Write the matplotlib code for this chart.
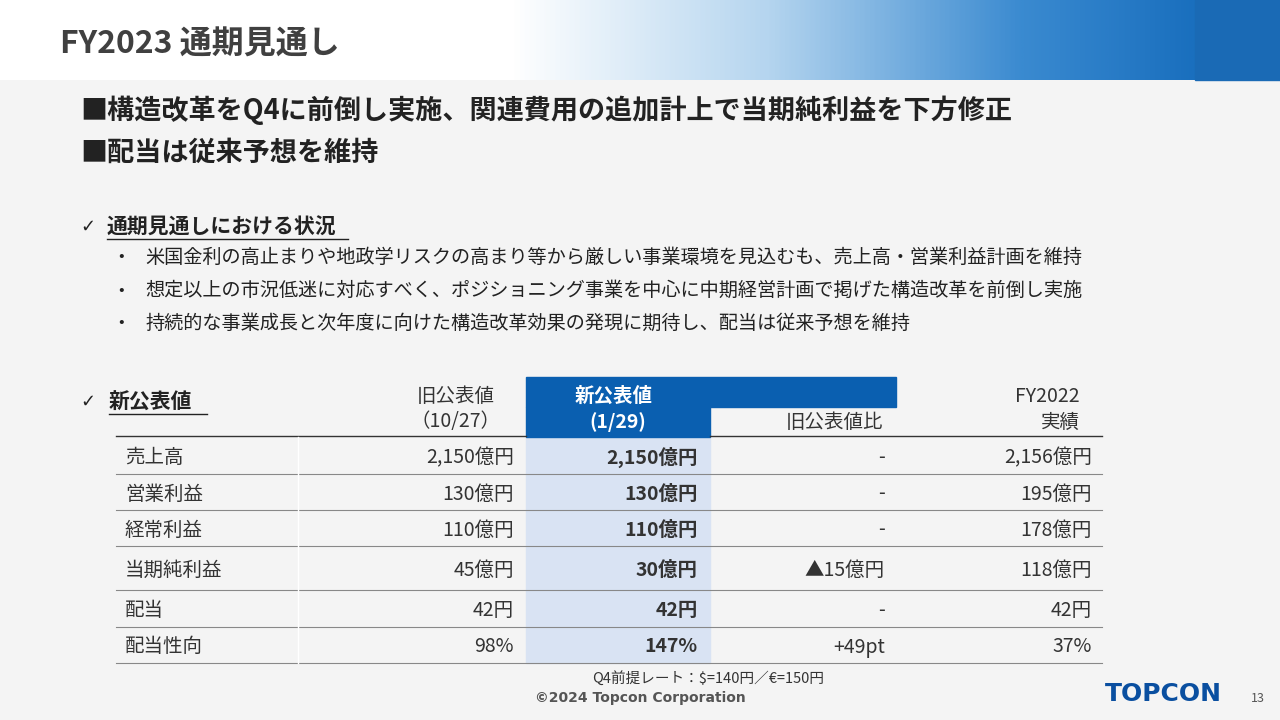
import numpy as np
import matplotlib.pyplot as plt
from matplotlib.patches import Rectangle
from matplotlib.colors import LinearSegmentedColormap

plt.rcParams['font.family'] = 'Noto Sans CJK JP'

rows = ['売上高', '営業利益', '経常利益', '当期純利益', '配当', '配当性向']
old_vals = ['2,150億円', '130億円', '110億円', '45億円', '42円', '98%']
new_vals = ['2,150億円', '130億円', '110億円', '30億円', '42円', '147%']
diff_vals = ['-', '-', '-', '▲15億円', '-', '+49pt']
fy22_vals = ['2,156億円', '195億円', '178億円', '118億円', '42円', '37%']
row_edges = [437, 474, 510, 546, 590, 627, 663]

bullets = ['米国金利の高止まりや地政学リスクの高まり等から厳しい事業環境を見込むも、売上高・営業利益計画を維持',
           '想定以上の市況低迷に対応すべく、ポジショニング事業を中心に中期経営計画で掲げた構造改革を前倒し実施',
           '持続的な事業成長と次年度に向けた構造改革効果の発現に期待し、配当は従来予想を維持']

fig = plt.figure(figsize=(12.8, 7.2), dpi=100)
ax = fig.add_axes([0, 0, 1, 1])
ax.set_xlim(0, 1280)
ax.set_ylim(720, 0)
ax.axis('off')
fig.patch.set_facecolor('#f4f4f4')

# header gradient
cmap = LinearSegmentedColormap.from_list('hdr', ['#ffffff', '#ffffff', '#ffffff', '#b5d5ef', '#3a8ad0', '#0a62b5'])
grad = np.linspace(0, 1, 512).reshape(1, -1)
ax.imshow(grad, cmap=cmap, extent=(0, 1280, 80, 0), aspect='auto', zorder=0)
ax.add_patch(Rectangle((1195, 0), 85, 80, color='#1a6ab5', zorder=1))
ax.text(60, 45, 'FY2023 通期見通し', fontsize=23, fontweight='bold', color='#404040', va='center')

ax.text(80, 110, '■構造改革をQ4に前倒し実施、関連費用の追加計上で当期純利益を下方修正',
        fontsize=19.5, fontweight='bold', color='#222222', va='center')
ax.text(80, 153, '■配当は従来予想を維持', fontsize=19.5, fontweight='bold', color='#222222', va='center')

ax.text(80, 227, '✓', fontsize=13, color='#222222', va='center', family='DejaVu Sans')
ax.text(107, 227, '通期見通しにおける状況', fontsize=15, fontweight='bold', color='#222222', va='center')
ax.plot([107, 348], [239, 239], color='#222222', lw=1)
for i, b in enumerate(bullets):
    y = 257 + i * 33
    ax.text(118, y, '•', fontsize=12, color='#222222', va='center')
    ax.text(145, y, b, fontsize=13.8, color='#222222', va='center')

# table
ax.text(80, 402, '✓', fontsize=13, color='#222222', va='center', family='DejaVu Sans')
ax.text(109, 402, '新公表値', fontsize=15, fontweight='bold', color='#222222', va='center')
ax.plot([109, 207], [414, 414], color='#222222', lw=1)

ax.add_patch(Rectangle((526, 377), 370, 30, color='#0a5fb0', zorder=2))
ax.add_patch(Rectangle((526, 407), 184, 30, color='#0a5fb0', zorder=2))
ax.add_patch(Rectangle((526, 437), 184, 226, color='#d9e3f3', zorder=1))
ax.plot([710, 1102], [436, 436], color='#333333', lw=1)
ax.plot([116, 526], [436, 436], color='#333333', lw=1)
fs = 14
ax.text(456, 396, '旧公表値', fontsize=fs, color='#333333', ha='center', va='center')
ax.text(456, 422, '（10/27）', fontsize=fs, color='#333333', ha='center', va='center')
ax.text(575, 396, '新公表値', fontsize=fs, fontweight='bold', color='white', va='center', zorder=3)
ax.text(618, 422, '(1/29)', fontsize=fs, fontweight='bold', color='white', ha='center', va='center', zorder=3)
ax.text(835, 422, '旧公表値比', fontsize=fs, color='#333333', ha='center', va='center')
ax.text(1080, 396, 'FY2022', fontsize=fs, color='#333333', ha='right', va='center')
ax.text(1080, 422, '実績', fontsize=fs, color='#333333', ha='right', va='center')

for i, r in enumerate(rows):
    y0, y1 = row_edges[i], row_edges[i + 1]
    yc = (y0 + y1) / 2 + 2
    ax.plot([116, 1102], [y1, y1], color='#888888', lw=0.8, zorder=2)
    ax.text(125, yc, r, fontsize=fs, color='#333333', va='center')
    ax.text(514, yc, old_vals[i], fontsize=fs, color='#333333', ha='right', va='center')
    ax.text(698, yc, new_vals[i], fontsize=fs, fontweight='bold', color='#333333', ha='right', va='center')
    ax.text(885, yc, diff_vals[i], fontsize=fs, color='#333333', ha='right', va='center')
    ax.text(1092, yc, fy22_vals[i], fontsize=fs, color='#333333', ha='right', va='center')
ax.plot([298, 298], [437, 663], color='#ffffff', lw=1)

ax.text(708, 678, 'Q4前提レート：$=140円／€=150円', fontsize=10.5, color='#333333', ha='center', va='center')
ax.text(640, 698, '©2024 Topcon Corporation', fontsize=10, fontweight='bold', color='#555555',
        ha='center', va='center', family='DejaVu Sans')
ax.text(1105, 694, 'TOPCON', fontsize=18, fontweight='heavy', color='#0a4fa0', va='center',
        family='DejaVu Sans')
ax.text(1258, 698, '13', fontsize=9, color='#555555', ha='center', va='center')

fig.savefig('out.png', dpi=100, facecolor=fig.get_facecolor())
